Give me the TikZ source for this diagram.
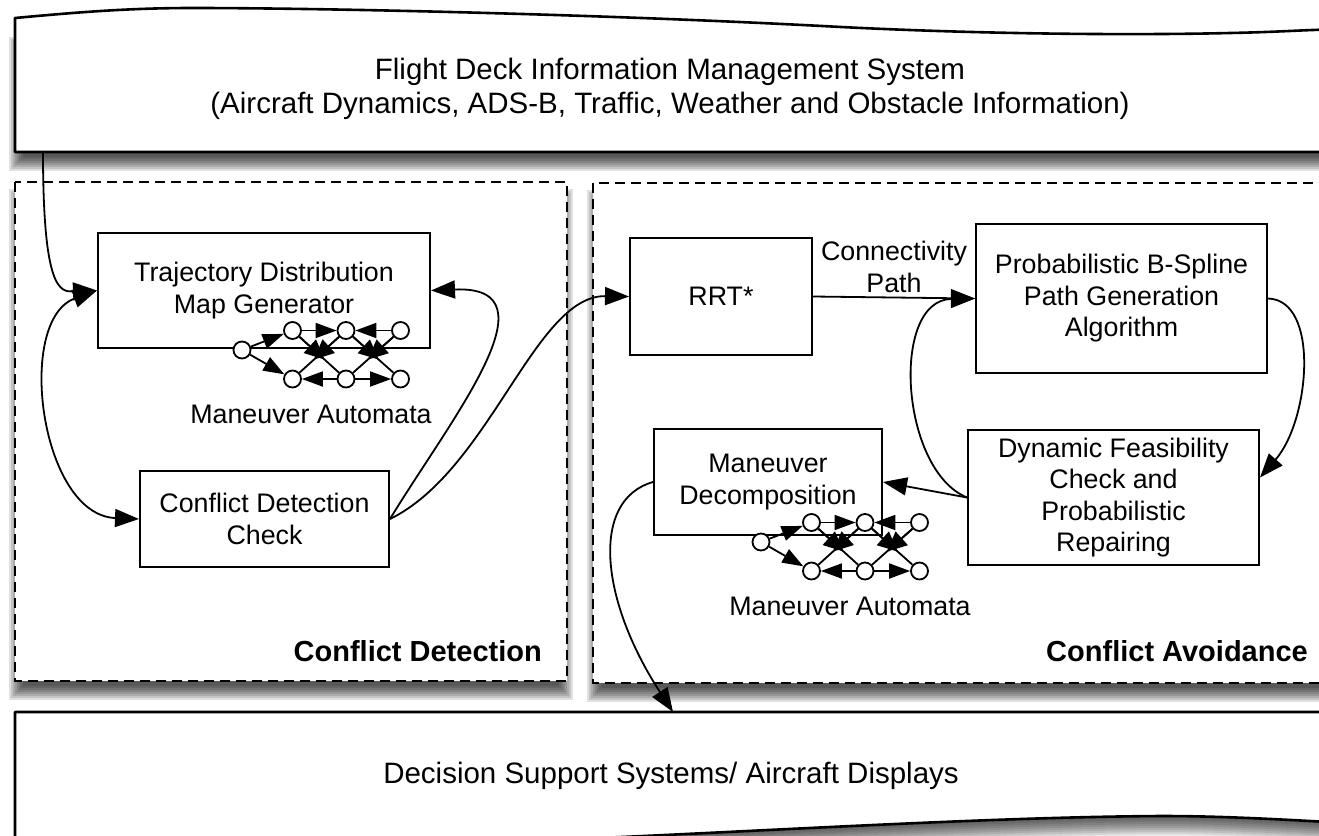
\documentclass[tikz,border=0pt]{standalone}
\usepackage{fontspec}
\setmainfont{Liberation Sans}
\usetikzlibrary{arrows.meta,calc}

\newcommand\BannerFont{\fontsize{29.5}{34}\selectfont}
\newcommand\BoxFont{\fontsize{26.8}{31.5}\selectfont}
\newcommand\RegionFont{\fontsize{29}{34}\selectfont\bfseries}

% soft drop shadow of a rectangle (x1,y1)-(x2,y2), cast downwards
\newcommand\softrect[4]{%
  \foreach \m in {-8,-6,...,6}{%
    \fill[black,opacity=0.12] ({#1-\m},{#2+13-\m}) rectangle ({#3+\m},{#4+13+\m});}}

% small maneuver automaton: #1 name prefix, (#2,#3) start state
\newcommand\drawautomaton[3]{%
  \node[state] (#1s)  at (#2,#3) {};
  \node[state] (#1t1) at ({#2+50.5},{#3-19.5}) {};
  \node[state] (#1t2) at ({#2+104},{#3-19.5}) {};
  \node[state] (#1t3) at ({#2+158.5},{#3-19.5}) {};
  \node[state] (#1b1) at ({#2+50.5},{#3+29}) {};
  \node[state] (#1b2) at ({#2+104},{#3+29}) {};
  \node[state] (#1b3) at ({#2+158.5},{#3+29}) {};
  \draw[tr] (#1s) -- (#1t1);
  \draw[tr] (#1s) -- (#1b1);
  \draw[tr] (#1t1) -- (#1t2);
  \draw[tr] (#1t3) -- (#1t2);
  \draw[tr] (#1b2) -- (#1b1);
  \draw[tr] (#1b2) -- (#1b3);
  \draw[plain] (#1t1) -- (#1b2);
  \draw[plain] (#1t2) -- (#1b1);
  \draw[plain] (#1t2) -- (#1b3);
  \draw[plain] (#1t3) -- (#1b2);
  \draw[trx] (#1t1) -- ($(#1t1)!0.6!(#1b2)$);
  \draw[trx] (#1t2) -- ($(#1t2)!0.6!(#1b1)$);
  \draw[trx] (#1t2) -- ($(#1t2)!0.6!(#1b3)$);
  \draw[trx] (#1t3) -- ($(#1t3)!0.6!(#1b2)$);
}

\tikzset{
  box/.style={draw, line width=2pt, fill=white, align=center, font=\BoxFont, inner sep=0pt},
  tipbig/.tip={Triangle[length=24pt,width=18pt]},
  conn/.style={line width=1.8pt, -tipbig},
  conntwo/.style={line width=1.8pt, tipbig-tipbig},
  region/.style={draw, line width=2.2pt, dash pattern=on 10pt off 6pt, fill=white},
  banner/.style={draw, line width=2.6pt, fill=white, line join=round},
  state/.style={circle, draw, line width=1.8pt, fill=white, minimum size=17pt, inner sep=0pt},
  tr/.style={line width=1.8pt, -{Triangle[length=21pt,width=15pt]}},
  trx/.style={line width=1.8pt, -{Triangle[length=20pt,width=18pt]}},
  plain/.style={line width=1.8pt},
}

\begin{document}
\begin{tikzpicture}[x=1pt,y=-1pt]
\useasboundingbox (0,0) rectangle (1319,835);
\clip (0,0) rectangle (1319,835);
\fill[white] (0,0) rectangle (1319,835);

% ---- shadows ----
\softrect{15}{30}{1345}{152}
\softrect{15}{182}{567}{681}
\softrect{593}{183}{1333}{683}
\foreach \k in {2,4,...,20}{
  \fill[black,opacity=0.09,shift={(0,\k)}]
    (15,712) -- (1345,712) -- (1345,823)
    .. controls (1260,818) and (1210,816) .. (1161,816)
    .. controls (1000,817) and (800,829) .. (600,838)
    .. controls (400,848) and (150,850) .. (15,846) -- cycle;}

% ---- information banners ----
\path[banner] (15,152) -- (15,18)
  .. controls (80,12) and (130,8) .. (193,8)
  .. controls (320,8) and (600,14) .. (841,27)
  .. controls (1000,35) and (1150,35) .. (1230,33)
  .. controls (1280,32) and (1300,30) .. (1345,29)
  -- (1345,152) -- cycle;
\path[banner] (15,712) -- (1345,712) -- (1345,823)
  .. controls (1260,818) and (1210,816) .. (1161,816)
  .. controls (1000,817) and (800,829) .. (600,838)
  .. controls (400,848) and (150,850) .. (15,846) -- cycle;

\node[font=\BannerFont, align=center] (fdims) at (670,89)
  {Flight Deck Information Management System\\(Aircraft Dynamics, ADS-B, Traffic, Weather and Obstacle Information)};
\node[font=\BannerFont] (dss) at (671,776) {Decision Support Systems/ Aircraft Displays};
\coordinate (fdimsOut) at (43,152);
\coordinate (dssIn) at (673,712);

% ---- dashed regions ----
\path[region] (15,182) rectangle (567,681);
\path[region] (593,183) rectangle (1333,683);
\node[font=\RegionFont, anchor=base east, inner sep=0pt] (cdLabel) at (542,661) {Conflict Detection};
\node[font=\RegionFont, anchor=base east, inner sep=0pt] (caLabel) at (1308,661) {Conflict Avoidance};

% ---- processing blocks ----
\node[box, minimum width=332pt, minimum height=115pt] (traj) at (264,290.5) {Trajectory Distribution\\Map Generator};
\node[box, minimum width=249pt, minimum height=96pt] (cdc) at (264.5,519) {Conflict Detection\\Check};
\node[box, minimum width=182pt, minimum height=117pt] (rrt) at (721,296.5) {RRT*};
\node[box, minimum width=291pt, minimum height=149pt] (bsp) at (1121.5,298.5) {Probabilistic B-Spline\\Path Generation\\Algorithm};
\node[box, minimum width=291pt, minimum height=135pt] (dyn) at (1113.5,497.5) {Dynamic Feasibility\\Check and\\Probabilistic\\Repairing};
\node[box, minimum width=228pt, minimum height=106pt] (mdec) at (768,482) {Maneuver\\Decomposition};

% ---- maneuver automata ----
\drawautomaton{ma}{242}{350}
\drawautomaton{mb}{761}{542}
\node[font=\BoxFont] (maLabel) at (311,414) {Maneuver Automata};
\node[font=\BoxFont] (mbLabel) at (850,606) {Maneuver Automata};

% ---- connectors ----
\draw[conn] (fdimsOut) .. controls (43,290) and (60,292) .. (traj.west);
\draw[conntwo] (traj.west) .. controls (15,320) and (40,515) .. (cdc.west);
\draw[conn] (cdc.east) .. controls (450,420) and (560,285) .. (traj.east);
\draw[conn] (cdc.east) .. controls (490,470) and (535,295) .. (rrt.west);
\draw[conn] (rrt.east) -- node[above=4pt, inner sep=0pt, font=\BoxFont, align=center] (connLabel) {Connectivity\\Path} (bsp.west);
\draw[conn] (bsp.east) .. controls (1320,300) and (1310,420) .. ([yshift=20pt]dyn.east);
\draw[conn] (dyn.west) .. controls (900,470) and (890,300) .. (bsp.west);
\draw[conn] (dyn.west) -- (mdec.east);
\draw[conn] (mdec.west) .. controls (590,500) and (600,600) .. (dssIn);
\end{tikzpicture}
\end{document}
